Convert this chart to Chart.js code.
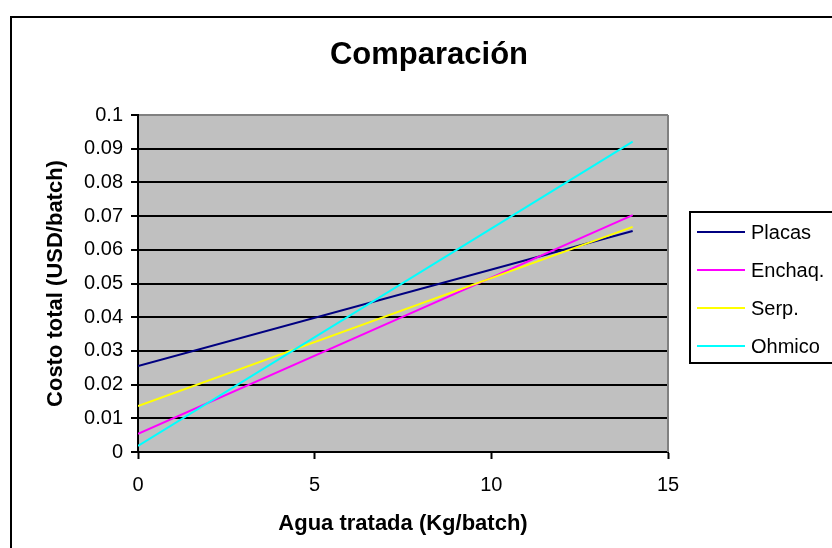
<!DOCTYPE html>
<html>
<head>
<meta charset="utf-8">
<script src="https://cdn.jsdelivr.net/npm/chart.js@4"></script>
<style>
  html, body { margin: 0; padding: 0; background: #fff; }
  canvas { display: block; }
</style>
</head>
<body>
<canvas id="chart" width="832" height="548"></canvas>
<script>
// Data
const aguaTratada = [0, 14];
const placas = [0.0255, 0.0656];
const enchaq = [0.0054, 0.0703];
const serp = [0.0136, 0.0668];
const ohmico = [0.0018, 0.0921];

const seriesNames = ['Placas', 'Enchaq.', 'Serp.', 'Ohmico'];
const seriesColors = ['#000080', '#FF00FF', '#FFFF00', '#00FFFF'];
const seriesValues = [placas, enchaq, serp, ohmico];

const FONT = "'Liberation Sans', Arial, sans-serif";
Chart.defaults.font.family = FONT;
Chart.defaults.color = '#000';

// Excel-like frame, plot background, title and boxed legend
const excelLook = {
  id: 'excelLook',
  beforeDraw(chart) {
    const { ctx, chartArea: a } = chart;
    ctx.save();
    ctx.fillStyle = '#C0C0C0';
    ctx.fillRect(a.left, a.top, a.right - a.left, a.bottom - a.top);
    ctx.restore();
  },
  afterDraw(chart) {
    const { ctx, chartArea: a } = chart;
    ctx.save();
    // right edge of plot
    ctx.strokeStyle = '#808080';
    ctx.lineWidth = 2;
    ctx.beginPath();
    ctx.moveTo(a.right, a.top);
    ctx.lineTo(a.right, a.bottom);
    ctx.stroke();

    // outer frame
    ctx.strokeStyle = '#000';
    ctx.lineWidth = 2;
    ctx.strokeRect(11, 17, 900, 600);

    // title
    ctx.fillStyle = '#000';
    ctx.font = 'bold 31px ' + FONT;
    ctx.textAlign = 'center';
    ctx.textBaseline = 'middle';
    ctx.fillText('Comparación', 429, 55);

    // legend
    ctx.lineWidth = 2;
    ctx.strokeRect(690, 212, 200, 151);
    ctx.font = '20px ' + FONT;
    ctx.textAlign = 'left';
    chart.data.datasets.forEach((ds, i) => {
      const y = 232 + i * 38;
      ctx.strokeStyle = ds.borderColor;
      ctx.beginPath();
      ctx.moveTo(697, y);
      ctx.lineTo(745, y);
      ctx.stroke();
      ctx.fillText(ds.label, 751, y + 1);
    });
    ctx.restore();
  }
};

const datasets = seriesNames.map((name, i) => ({
  label: name,
  data: aguaTratada.map((x, j) => ({ x: x, y: seriesValues[i][j] })),
  borderColor: seriesColors[i],
  backgroundColor: seriesColors[i],
  borderWidth: 2,
  pointRadius: 0,
  showLine: true,
  order: seriesNames.length - i
}));

new Chart(document.getElementById('chart'), {
  type: 'scatter',
  data: { datasets: datasets },
  plugins: [excelLook],
  options: {
    responsive: false,
    animation: false,
    devicePixelRatio: 1,
    layout: { padding: { left: 10, top: 115, right: 164, bottom: 0 } },
    plugins: {
      legend: { display: false },
      title: { display: false },
      tooltip: { enabled: false }
    },
    scales: {
      x: {
        type: 'linear',
        min: 0,
        max: 15,
        ticks: { stepSize: 5, padding: 14, font: { size: 20 }, color: '#000' },
        grid: { drawOnChartArea: false, drawTicks: true, tickLength: 7, tickColor: '#000', tickWidth: 2 },
        border: { display: true, color: '#000', width: 2 },
        title: {
          display: true,
          text: 'Agua tratada (Kg/batch)',
          font: { size: 22, weight: 'bold' },
          color: '#000',
          padding: { top: 0, bottom: 11 }
        },
        afterFit(scale) { scale.height = 96; }
      },
      y: {
        min: 0,
        max: 0.1,
        ticks: {
          stepSize: 0.01,
          padding: 8,
          font: { size: 20 },
          color: '#000',
          callback: (v) => String(Number(v.toFixed(2)))
        },
        grid: {
          color: (c) => (c.tick && c.tick.value >= 0.1 ? '#808080' : '#000'),
          lineWidth: 2,
          tickLength: 7,
          tickColor: '#000',
          tickWidth: 2
        },
        border: { display: true, color: '#000', width: 2 },
        title: {
          display: true,
          text: 'Costo total (USD/batch)',
          font: { size: 22, weight: 'bold' },
          color: '#000',
          padding: { top: 33, bottom: 0 }
        },
        afterFit(scale) { scale.width = 128; }
      }
    }
  }
});
</script>
</body>
</html>
